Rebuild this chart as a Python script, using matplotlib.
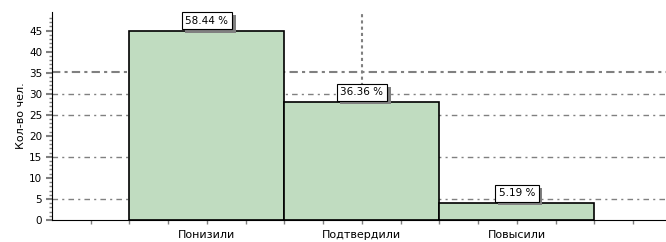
import numpy as np
from matplotlib import pyplot as plt
from matplotlib import patheffects

categories = ['Понизили', 'Подтвердили', 'Повысили']
counts = [45, 28, 4]
centers = [4, 8, 12]
grid_levels = [5, 15, 25, 30]
ref_level = 35.2

total = float(sum(counts))
labels = ['%.2f %%' % (100.0 * c / total) for c in counts]

fig = plt.figure(figsize=(6.66, 2.42), dpi=100)
ax = fig.add_axes([52 / 666., 22 / 242., 614 / 666., 208 / 242.])

gray = '#808080'
for g in grid_levels:
	ax.axhline(g, color=gray, lw=1, dashes=(4, 3, 1.5, 3), zorder=1)
ax.axhline(ref_level, color=gray, lw=1.5, dashes=(4, 2, 1.5, 2), zorder=1)

ax.bar(centers, counts, width=4, color='#c0dcc0', edgecolor='black',
	linewidth=1.2, zorder=2)

for x, c, lab in zip(centers, counts, labels):
	t = ax.annotate(lab, (x, c), xytext=(0, 3.5), textcoords='offset points',
		ha='center', va='bottom', fontsize=7.5, color='black', zorder=4,
		bbox=dict(boxstyle='square,pad=0.35', fc='white', ec='black', lw=0.8))
	t.get_bbox_patch().set_path_effects([
		patheffects.SimplePatchShadow(offset=(2.5, -2.5), shadow_rgbFace=gray, alpha=1),
		patheffects.Normal()])

ax.plot([centers[1], centers[1]], [31.8, 50], color=gray, lw=1.5,
	ls=(0, (1.5, 1.5)), zorder=1)

ax.set_xlim(0, 15.85)
ax.set_ylim(0, 49.4)
ax.set_xticks(centers)
ax.set_xticklabels(categories, fontsize=8)
ax.set_xticks(np.arange(1, 16), minor=True)
ax.set_yticks(np.arange(0, 50, 5))
ax.set_yticks(np.arange(0, 49, 1), minor=True)
ax.tick_params(axis='y', labelsize=7.5, length=4, width=1.5, color=gray, pad=3)
ax.tick_params(axis='y', which='minor', length=2, width=1, color=gray)
ax.tick_params(axis='x', length=3, width=1, color=gray, pad=4)
ax.tick_params(axis='x', which='minor', length=3, width=1, color=gray)
ax.set_ylabel('Кол-во чел.', fontsize=8, labelpad=2)

for s in ['top', 'right']:
	ax.spines[s].set_visible(False)

fig.savefig('out.png', dpi=100)
